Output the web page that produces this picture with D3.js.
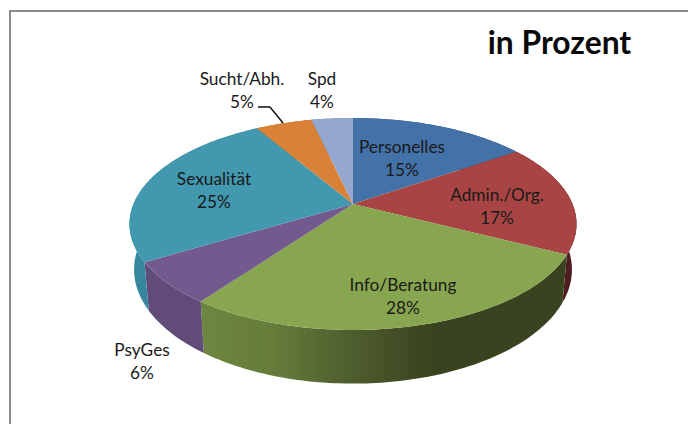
<!DOCTYPE html>
<html>
<head>
<meta charset="utf-8">
<script src="https://cdn.jsdelivr.net/npm/d3@7"></script>
<style>
  html, body { margin: 0; padding: 0; background: #fff; }
  svg { display: block; }
  text { font-family: Lato, "Open Sans", sans-serif; }
</style>
</head>
<body>
<div id="chart"></div>
<script>
// chart values
var categories = ["Personelles", "Admin./Org.", "Info/Beratung", "PsyGes", "Sexualität", "Sucht/Abh.", "Spd"];
var values = [15.4, 17.1, 27.5, 6.4, 25.1, 4.9, 3.6];
var topColors = ["#4372a8", "#a84544", "#88a54f", "#725a8f", "#4198af", "#da8138", "#94a8cf"];
var wallColors = ["#2c4a6e", "#4f1d20", "#39431f", "#614c79", "#37869f", "#a8622a", "#6f80a0"];

var width = 688, height = 424;

var svg = d3.select("#chart")
  .append("svg")
    .attr("width", width)
    .attr("height", height);

// chart frame, only top and left edges are inside the crop
svg.append("path")
  .attr("d", "M10,424V11H688")
  .attr("fill", "none")
  .attr("stroke", "#8c8c8c")
  .attr("stroke-width", 2);

svg.append("text")
  .attr("x", 559.5)
  .attr("y", 54)
  .attr("text-anchor", "middle")
  .attr("font-size", 31.8)
  .attr("font-weight", 700)
  .attr("fill", "#0a0a0a")
  .text("in Prozent");

// perspective projection of the tilted disc
var cx = 353, k = 0.1887;
function project(a, disc) {
  var u = Math.sin(a), v = -Math.cos(a), w = 1 - k * v;
  return [cx + disc.rx * u / w, disc.y0 + disc.ry * v / w];
}
var topDisc = {rx: 219.5, ry: 102.2, y0: 204};
var lowDisc = {rx: 215, ry: 110, y0: 248};

var color = d3.scaleOrdinal().domain(categories).range(topColors);
var wallColor = d3.scaleOrdinal().domain(categories).range(wallColors);

var pie = d3.pie().sort(null).value(function(d, i) { return values[i]; });
var arcs = pie(categories);

function arcPoints(d, disc) {
  var n = Math.max(2, Math.ceil((d.endAngle - d.startAngle) / 0.02));
  return d3.range(n + 1).map(function(i) {
    return project(d.startAngle + (d.endAngle - d.startAngle) * i / n, disc);
  });
}

var line = d3.line();

// gradient on the green wall, dark towards the right
var defs = svg.append("defs");
var grad = defs.append("linearGradient")
  .attr("id", "greenWall")
  .attr("gradientUnits", "userSpaceOnUse")
  .attr("x1", 203).attr("x2", 430).attr("y1", 0).attr("y2", 0);
grad.append("stop").attr("offset", 0).attr("stop-color", "#6d863f");
grad.append("stop").attr("offset", 0.3).attr("stop-color", "#667d3b");
grad.append("stop").attr("offset", 0.62).attr("stop-color", "#50602e");
grad.append("stop").attr("offset", 1).attr("stop-color", "#39431f");

// walls first, the top face covers everything at the back
svg.append("g")
  .selectAll("path")
  .data(arcs)
  .enter()
  .append("path")
    .attr("d", function(d) {
      var pts = arcPoints(d, topDisc).concat(arcPoints(d, lowDisc).reverse());
      return line(pts) + "Z";
    })
    .attr("fill", function(d) {
      return d.data == "Info/Beratung" ? "url(#greenWall)" : wallColor(d.data);
    });

svg.append("g")
  .selectAll("path")
  .data(arcs)
  .enter()
  .append("path")
    .attr("d", function(d) {
      return line([[cx, topDisc.y0]].concat(arcPoints(d, topDisc))) + "Z";
    })
    .attr("fill", function(d) { return color(d.data); });

// leader line of the Sucht/Abh. label
svg.append("path")
  .attr("d", "M258,107H270L283,123")
  .attr("fill", "none")
  .attr("stroke", "#111")
  .attr("stroke-width", 1.5);

// label anchors, placed by hand like in the original chart
var labelAt = {
  "Personelles": [402, 153],
  "Admin./Org.": [497, 201],
  "Info/Beratung": [403, 291],
  "PsyGes": [142, 356],
  "Sexualität": [214, 185],
  "Sucht/Abh.": [242, 85],
  "Spd": [322, 85]
};

var labels = svg.append("g")
  .selectAll("text")
  .data(arcs)
  .enter()
  .append("text")
    .attr("text-anchor", "middle")
    .attr("font-size", 17.3)
    .attr("fill", "#1a1a1a");

labels.append("tspan")
  .attr("x", function(d) { return labelAt[d.data][0]; })
  .attr("y", function(d) { return labelAt[d.data][1]; })
  .text(function(d) { return d.data; });

labels.append("tspan")
  .attr("x", function(d) { return labelAt[d.data][0]; })
  .attr("y", function(d) { return labelAt[d.data][1] + 23; })
  .text(function(d) { return Math.round(d.value) + "%"; });
</script>
</body>
</html>
